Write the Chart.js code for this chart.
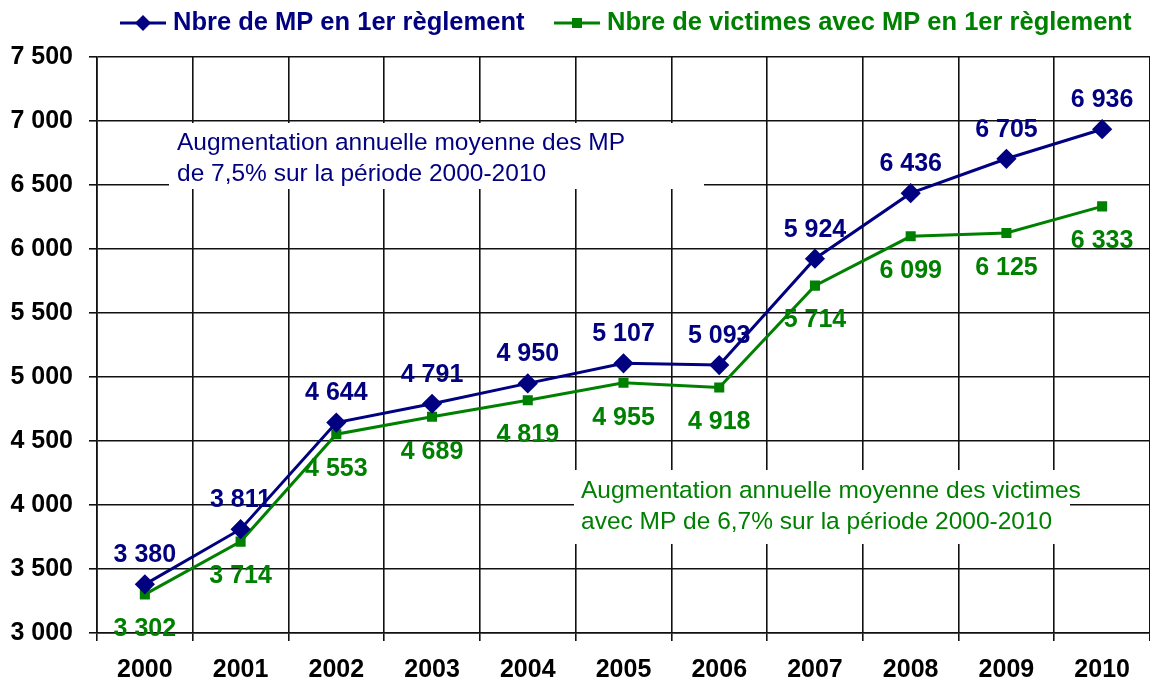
<!DOCTYPE html>
<html>
<head>
<meta charset="utf-8">
<script src="https://cdn.jsdelivr.net/npm/chart.js@4"></script>
<style>
  html, body { margin: 0; padding: 0; background: #fff; overflow: hidden; }
  #wrap { width: 1150px; height: 684px; }
</style>
</head>
<body>
<div id="wrap"><canvas id="chart"></canvas></div>
<script>
// Données
const annees = ['2000', '2001', '2002', '2003', '2004', '2005', '2006', '2007', '2008', '2009', '2010'];
const nbreMP = [3380, 3811, 4644, 4791, 4950, 5107, 5093, 5924, 6436, 6705, 6936];
const nbreVictimes = [3302, 3714, 4553, 4689, 4819, 4955, 4918, 5714, 6099, 6125, 6333];
const legendeMP = 'Nbre de MP en 1er règlement';
const legendeVictimes = 'Nbre de victimes avec MP en 1er règlement';
const noteMP = ['Augmentation annuelle moyenne des MP', 'de 7,5% sur la période 2000-2010'];
const noteVictimes = ['Augmentation annuelle moyenne des victimes', 'avec MP de 6,7% sur la période 2000-2010'];

const BLEU = '#000080';
const VERT = '#008000';
const POLICE = '"Liberation Sans", Arial, sans-serif';

function formatNombre(v) {
    return String(v).replace(/\B(?=(\d{3})+(?!\d))/g, ' ');
}

// Encadrés de texte (fond blanc qui masque la grille)
const notesPlugin = {
    id: 'notes',
    beforeDatasetsDraw(chart) {
        const ctx = chart.ctx;
        ctx.save();
        ctx.fillStyle = '#fff';
        ctx.fillRect(169, 123, 535, 66);
        ctx.fillRect(574, 470, 496, 74);
        ctx.font = '24.5px ' + POLICE;
        ctx.textBaseline = 'middle';
        ctx.fillStyle = BLEU;
        ctx.fillText(noteMP[0], 177, 143);
        ctx.fillText(noteMP[1], 177, 174);
        ctx.fillStyle = VERT;
        ctx.fillText(noteVictimes[0], 581, 491);
        ctx.fillText(noteVictimes[1], 581, 522);
        ctx.restore();
    }
};

// Étiquettes de valeurs
const etiquettesPlugin = {
    id: 'etiquettes',
    afterDatasetsDraw(chart) {
        const ctx = chart.ctx;
        ctx.save();
        ctx.font = 'bold 25px ' + POLICE;
        ctx.textAlign = 'center';
        ctx.textBaseline = 'middle';
        chart.data.datasets.forEach((ds, i) => {
            const meta = chart.getDatasetMeta(i);
            ctx.fillStyle = ds.borderColor;
            meta.data.forEach((pt, j) => {
                const dy = i === 0 ? -29 : 35;
                ctx.fillText(formatNombre(ds.data[j]), pt.x, pt.y + dy);
            });
        });
        ctx.restore();
    }
};

// Légende en haut (trait + marqueur)
const legendePlugin = {
    id: 'legendeHaut',
    afterDraw(chart) {
        const ctx = chart.ctx;
        const y = 23;
        ctx.save();
        ctx.lineWidth = 3;
        // série MP
        ctx.strokeStyle = BLEU;
        ctx.beginPath(); ctx.moveTo(120, y); ctx.lineTo(166, y); ctx.stroke();
        ctx.fillStyle = BLEU;
        ctx.beginPath();
        ctx.moveTo(143, y - 8); ctx.lineTo(151, y); ctx.lineTo(143, y + 8); ctx.lineTo(135, y);
        ctx.closePath(); ctx.fill();
        // série victimes
        ctx.strokeStyle = VERT;
        ctx.beginPath(); ctx.moveTo(554, y); ctx.lineTo(600, y); ctx.stroke();
        ctx.fillStyle = VERT;
        ctx.fillRect(572, y - 5, 10, 10);
        ctx.font = 'bold 25.5px ' + POLICE;
        ctx.textBaseline = 'middle';
        ctx.fillStyle = BLEU;
        ctx.fillText(legendeMP, 173, y);
        ctx.fillStyle = VERT;
        ctx.fillText(legendeVictimes, 607, y);
        ctx.restore();
    }
};

new Chart(document.getElementById('chart'), {
    type: 'line',
    data: {
        labels: annees,
        datasets: [
            {
                label: legendeMP,
                data: nbreMP,
                borderColor: BLEU,
                backgroundColor: BLEU,
                borderWidth: 3,
                pointStyle: 'rectRot',
                pointRadius: 8,
                pointHoverRadius: 8,
                tension: 0
            },
            {
                label: legendeVictimes,
                data: nbreVictimes,
                borderColor: VERT,
                backgroundColor: VERT,
                borderWidth: 3,
                pointStyle: 'rect',
                pointRadius: 5,
                pointHoverRadius: 5,
                tension: 0
            }
        ]
    },
    options: {
        responsive: true,
        maintainAspectRatio: false,
        animation: false,
        layout: { autoPadding: false, padding: { top: 57, right: 0, left: 0, bottom: 0 } },
        plugins: {
            legend: { display: false },
            tooltip: { enabled: false }
        },
        scales: {
            x: {
                offset: true,
                grid: { offset: true, color: '#111', lineWidth: 1.6, tickLength: 8 },
                border: { color: '#111', width: 1.6 },
                ticks: {
                    color: '#000',
                    font: { family: POLICE, size: 25, weight: 'bold' },
                    padding: 14,
                    maxRotation: 0
                },
                afterFit(scale) { scale.height = 51; }
            },
            y: {
                min: 3000,
                max: 7500,
                grid: { color: '#111', lineWidth: 1.6, tickLength: 8 },
                border: { color: '#111', width: 1.6 },
                ticks: {
                    stepSize: 500,
                    color: '#000',
                    font: { family: POLICE, size: 25, weight: 'bold' },
                    padding: 16,
                    callback: v => formatNombre(v)
                },
                afterFit(scale) { scale.width = 97; }
            }
        }
    },
    plugins: [notesPlugin, etiquettesPlugin, legendePlugin]
});
</script>
</body>
</html>
